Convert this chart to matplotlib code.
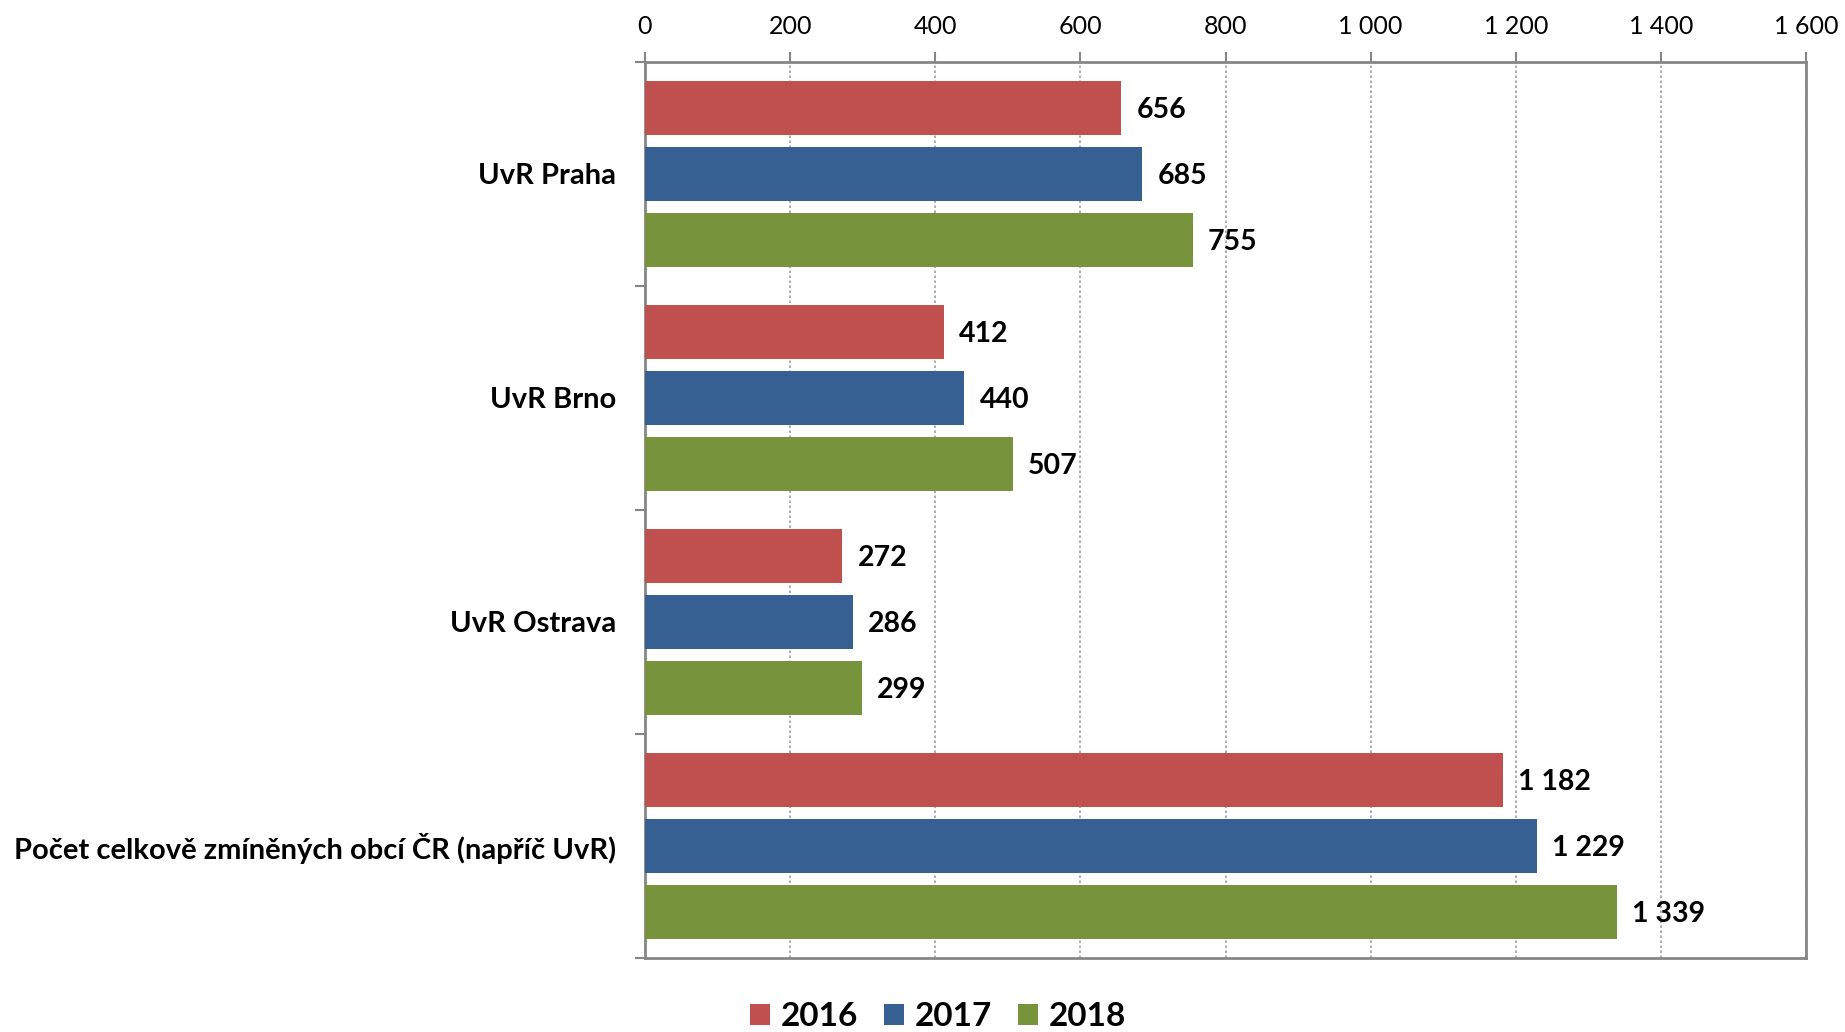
import matplotlib
matplotlib.use("Agg")
import matplotlib.pyplot as plt
import numpy as np
from matplotlib.patches import Patch

categories = ["UvR Praha", "UvR Brno", "UvR Ostrava", "Počet celkově zmíněných obcí ČR (napříč UvR)"]
years = ["2016", "2017", "2018"]
v2016 = [656, 412, 272, 1182]
v2017 = [685, 440, 286, 1229]
v2018 = [755, 507, 299, 1339]
xticks = [0, 200, 400, 600, 800, 1000, 1200, 1400, 1600]
colors = ["#C0504D", "#376092", "#77933C"]

plt.rcParams['font.family'] = ['Lato', 'DejaVu Sans']

def fmt(v):
    return f"{v:,}".replace(",", " ")

fig = plt.figure(figsize=(18.45, 10.32), dpi=100)
L, R, T, B = 645, 1806, 62, 958
ax = fig.add_axes([L/1845, 1-B/1032, (R-L)/1845, (B-T)/1032])

slot = 66/224
bh = 54/224
y = np.arange(len(categories))
series = [v2016, v2017, v2018]
for k, vals in enumerate(series):
    pos = y + (k-1)*slot
    ax.barh(pos, vals, height=bh, color=colors[k], zorder=3)
    for p, v in zip(pos, vals):
        ax.annotate(fmt(v), (v, p), xytext=(11, -1.5), textcoords="offset points",
                    va="center", ha="left", fontsize=20.5, fontweight="bold", color="black")

ax.set_xlim(0, 1600)
ax.set_ylim(3.5, -0.5)
ax.xaxis.tick_top()
ax.set_xticks(xticks)
ax.set_xticklabels([fmt(t) for t in xticks], fontsize=18)
ax.tick_params(axis='x', direction='out', length=7, width=1.5, color="#868686", pad=10)
ax.set_yticks(y)
ax.set_yticklabels(categories, fontsize=21, fontweight="bold")
ax.tick_params(axis='y', which='major', length=0, pad=21)
ax.set_yticks([-0.5, 0.5, 1.5, 2.5, 3.5], minor=True)
ax.tick_params(axis='y', which='minor', direction='out', length=7, width=1.5, color="#868686")
ax.grid(axis='x', linestyle=(0, (1.5, 1.5)), color="#A0A0A0", linewidth=1.2, zorder=0)
for s in ax.spines.values():
    s.set_color("#868686")
    s.set_linewidth(2)

handles = [Patch(facecolor=c) for c in colors]
fig.legend(handles, years, loc="center", bbox_to_anchor=(938/1845, 1-1017/1032), ncol=3,
           frameon=False, prop={'size': 24, 'weight': 'bold'}, handlelength=0.6, handleheight=0.6,
           handletextpad=0.3, columnspacing=0.8)

fig.savefig("out.png", dpi=100)
